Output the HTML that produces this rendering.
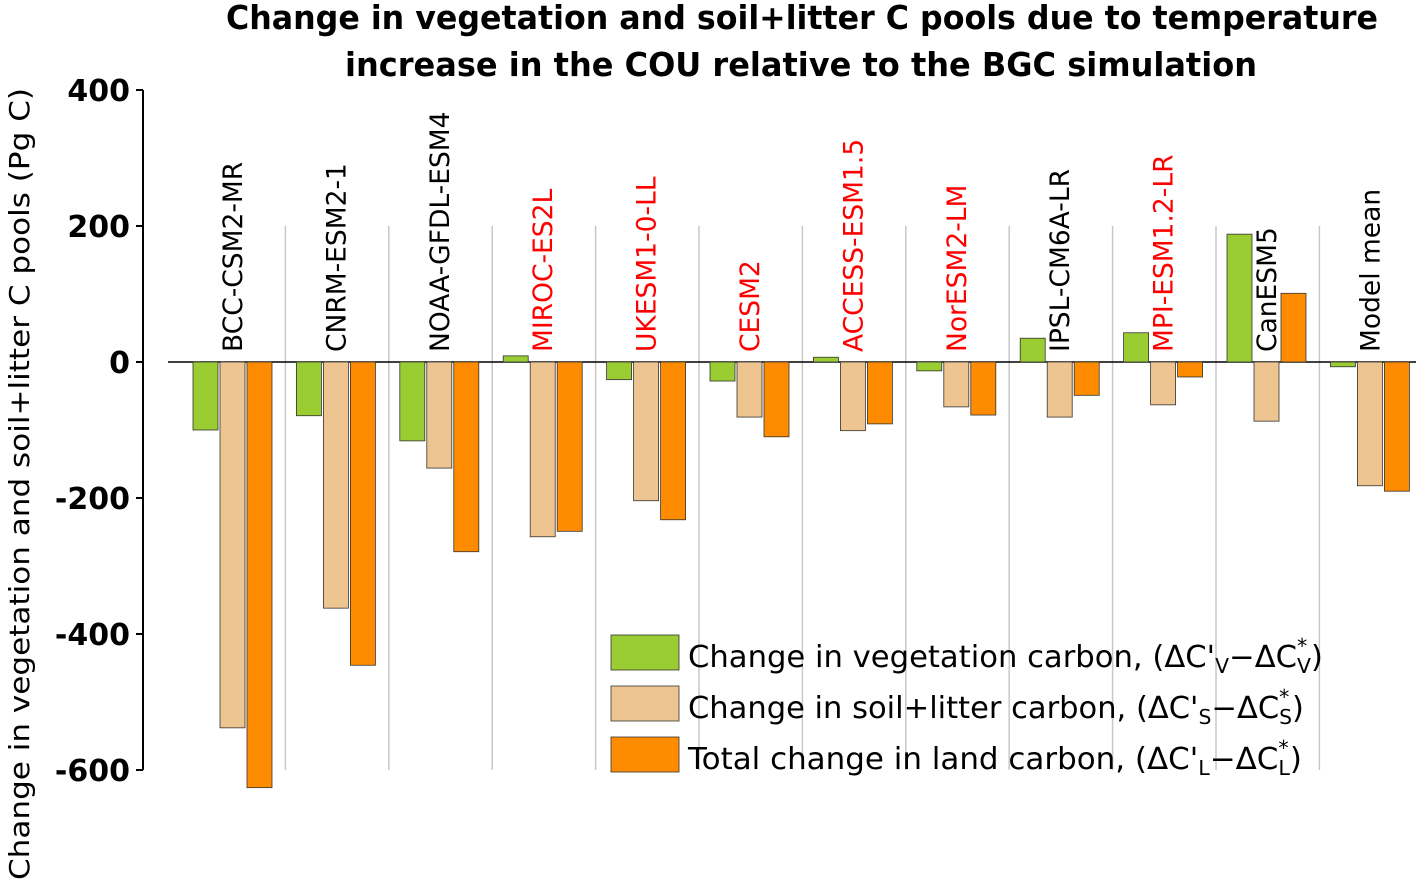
<!DOCTYPE html>
<html><head><meta charset="utf-8"><style>
body{margin:0;background:#fff;}
svg{display:block;font-family:"DejaVu Sans","Liberation Sans",sans-serif;}
</style></head><body>
<svg id="chart" width="1418" height="879"></svg>
<script>
const models=["BCC-CSM2-MR","CNRM-ESM2-1","NOAA-GFDL-ESM4","MIROC-ES2L","UKESM1-0-LL","CESM2","ACCESS-ESM1.5","NorESM2-LM","IPSL-CM6A-LR","MPI-ESM1.2-LR","CanESM5","Model mean"];
const redModels=["MIROC-ES2L","UKESM1-0-LL","CESM2","ACCESS-ESM1.5","NorESM2-LM","MPI-ESM1.2-LR"];
const vegValues=[-100,-79,-116,9,-26,-28,7,-13,35,43,188,-7];
const soilValues=[-538,-362,-156,-257,-204,-81,-101,-66,-81,-63,-87,-182];
const totalValues=[-626,-446,-279,-249,-232,-110,-91,-78,-49,-22,101,-190];
const yTicks=[400,200,0,-200,-400,-600];

const NS="http://www.w3.org/2000/svg";
const svg=document.getElementById('chart');
function el(tag,attrs,parent){const e=document.createElementNS(NS,tag);for(const k in attrs)e.setAttribute(k,attrs[k]);(parent||svg).appendChild(e);return e;}
const y=v=>362-v*0.68;
const gx=i=>182+103.4*i;

const t=el('text',{x:226,y:29,'font-size':33,'font-weight':'bold',fill:'#000',textLength:1152,lengthAdjust:'spacingAndGlyphs'});


t.textContent='Change in vegetation and soil+litter C pools due to temperature';
const t2=el('text',{x:345,y:76,'font-size':33,'font-weight':'bold',fill:'#000',textLength:912,lengthAdjust:'spacingAndGlyphs'});


t2.textContent='increase in the COU relative to the BGC simulation';

const ya=el('line',{x1:143,y1:y(400),x2:143,y2:y(-600),stroke:'#000','stroke-width':2});


yTicks.forEach(v=>{
  const tk=el('line',{x1:136,y1:y(v),x2:143,y2:y(v),stroke:'#000','stroke-width':2});
  
  
  const tl=el('text',{x:130,y:y(v)+11,'text-anchor':'end','font-size':30,'font-weight':'bold',fill:'#000'});
  
  
  tl.textContent=v;
});
const yt=el('text',{transform:'translate(29,880) rotate(-90)','font-size':28,fill:'#000',textLength:792,lengthAdjust:'spacingAndGlyphs'});


yt.textContent='Change in vegetation and soil+litter C pools (Pg C)';

for(let i=1;i<models.length;i++){
  const s=el('line',{x1:gx(i),y1:y(200),x2:gx(i),y2:y(-600),stroke:'#c8c8c8','stroke-width':1.5});
  
  
}
const z=el('line',{x1:168,y1:y(0),x2:1416,y2:y(0),stroke:'#000','stroke-width':1.5});



const series=[[vegValues,'#9acd32',11,'bar-vegetation'],[soilValues,'#eec590',38,'bar-soil-litter'],[totalValues,'#ff8c00',65,'bar-total-land']];
models.forEach((m,i)=>{
  series.forEach(([vals,col,off,name])=>{
    const v=vals[i];
    const r=el('rect',{x:gx(i)+off,y:Math.min(y(v),y(0)),width:25,height:Math.abs(y(v)-y(0)),fill:col,stroke:'#333','stroke-width':0.8});
    
    
  });
  const lab=el('text',{transform:`translate(${gx(i)+60},352) rotate(-90)`,'font-size':26.5,fill:redModels.includes(m)?'#ff0000':'#000'});
  
  
  lab.textContent=m;
});

const leg=[['#9acd32','Change in vegetation carbon, (ΔC\'','V','−ΔC','V',635,635],['#eec590','Change in soil+litter carbon, (ΔC\'','S','−ΔC','S',686,616],['#ff8c00','Total change in land carbon, (ΔC\'','L','−ΔC','L',737,614]];
leg.forEach(([col,a,s1,b,s2,yy,len])=>{
  const sw=el('rect',{x:611,y:yy,width:68,height:35,fill:col,stroke:'#333','stroke-width':0.8});
  
  
  const tx=el('text',{x:688,y:yy+32,'font-size':30,fill:'#000',textLength:len,lengthAdjust:'spacingAndGlyphs'});
  
  
  const p1=el('tspan',{},tx);p1.textContent=a;
  const p2=el('tspan',{'font-size':20,dy:6},tx);p2.textContent=s1;
  const p3=el('tspan',{dy:-6},tx);p3.textContent=b;
  const p4=el('tspan',{'font-size':20,dy:-14},tx);p4.textContent='*';
  const p5=el('tspan',{'font-size':20,dx:-10,dy:20},tx);p5.textContent=s2;
  const p6=el('tspan',{dy:-6},tx);p6.textContent=')';
});
</script>
</body></html>
